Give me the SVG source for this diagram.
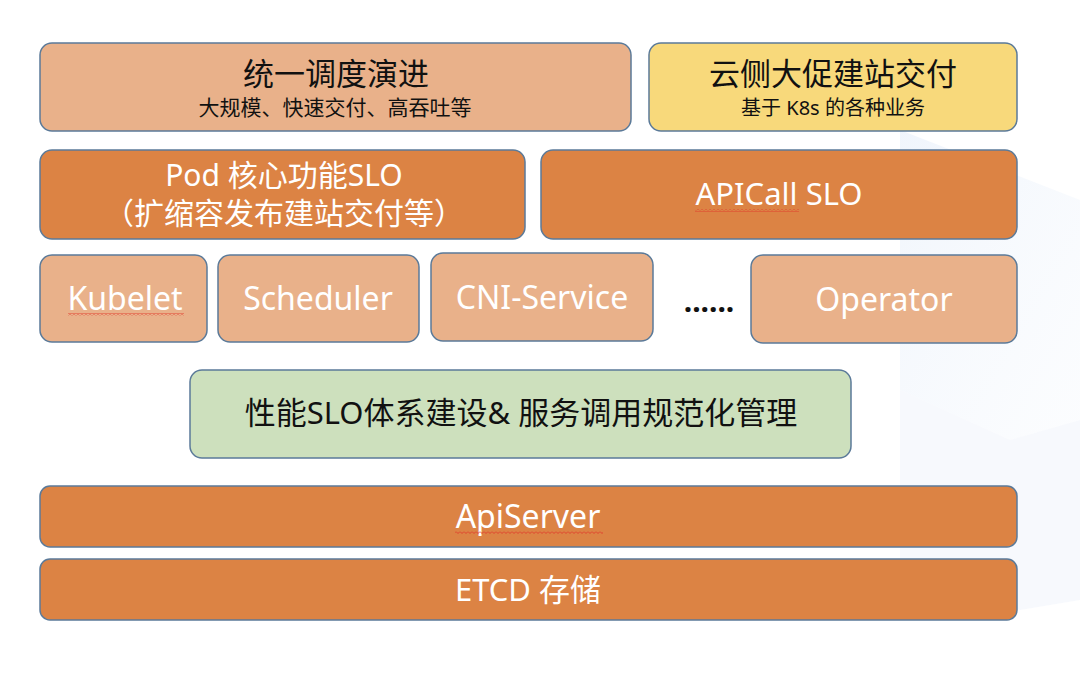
<svg xmlns="http://www.w3.org/2000/svg" width="1080" height="677" viewBox="0 0 1080 677">
<defs>
<style>
.box{stroke:#5B7A99;stroke-width:1.5}
.light{fill:#E9B18A}
.dark{fill:#DC8344}
.yellow{fill:#F8D97B}
.green{fill:#CDE0BD}
text{font-family:"Noto Sans","Noto Sans CJK SC",sans-serif;text-anchor:middle;dominant-baseline:central}
.w{fill:#FFFFFF}
.b{fill:#111111}
</style>
<pattern id="zig" x="0" y="0" width="4" height="3" patternUnits="userSpaceOnUse">
<path d="M0 0.5 L2 2.5 L4 0.5" fill="none" stroke="#E03A2A" stroke-width="0.9"/>
</pattern>
<linearGradient id="bg" x1="0" y1="0" x2="1" y2="1">
<stop offset="0" stop-color="#EAF1FB" stop-opacity="0.7"/>
<stop offset="1" stop-color="#F4F8FD" stop-opacity="0.3"/>
</linearGradient>
</defs>
<rect width="1080" height="677" fill="#FFFFFF"/>
<g id="background">
<polygon points="900,130 1080,200 1080,420 1010,440 900,390" fill="url(#bg)"/>
<polygon points="900,390 1010,440 1080,420 1080,600 1020,610 900,560" fill="#F3F7FC" opacity="0.7"/>
</g>
<g id="n-unified">
<rect class="box light" x="40" y="43" width="591" height="88" rx="12"/>
<text class="b" x="336" y="73" font-size="31">统一调度演进</text>
<text class="b" x="335" y="107" font-size="21">大规模、快速交付、高吞吐等</text>
</g>
<g id="n-cloud">
<rect class="box yellow" x="649" y="43" width="368" height="88" rx="12"/>
<text class="b" x="833" y="73" font-size="31">云侧大促建站交付</text>
<text class="b" x="833" y="107" font-size="20">基于 K8s 的各种业务</text>
</g>
<g id="n-pod">
<rect class="box dark" x="40" y="150" width="485" height="89" rx="12"/>
<text class="w" x="284" y="174" font-size="30">Pod 核心功能SLO</text>
<text class="w" x="284" y="212" font-size="30">（扩缩容发布建站交付等）</text>
</g>
<g id="n-apicall">
<rect class="box dark" x="541" y="150" width="476" height="89" rx="12"/>
<text class="w" x="779" y="193" font-size="31">APICall SLO</text>
<rect x="695" y="209" width="104" height="3" fill="url(#zig)"/>
</g>
<g id="n-kubelet">
<rect class="box light" x="40" y="255" width="167" height="87" rx="12"/>
<text class="w" x="125" y="297" font-size="32">Kubelet</text>
<rect x="68" y="313" width="116" height="3" fill="url(#zig)"/>
</g>
<g id="n-scheduler">
<rect class="box light" x="218" y="255" width="201" height="87" rx="12"/>
<text class="w" x="318" y="297" font-size="32">Scheduler</text>
</g>
<g id="n-cni">
<rect class="box light" x="431" y="253" width="222" height="88" rx="12"/>
<text class="w" x="542" y="296" font-size="32">CNI-Service</text>
</g>
<g id="n-ellipsis">
<text class="b" x="709" y="300" font-size="30" font-weight="700">......</text>
</g>
<g id="n-operator">
<rect class="box light" x="751" y="255" width="266" height="88" rx="12"/>
<text class="w" x="884" y="298" font-size="32">Operator</text>
</g>
<g id="n-perf">
<rect class="box green" x="190" y="370" width="661" height="88" rx="12"/>
<text class="b" x="521" y="412" font-size="31">性能SLO体系建设&amp; 服务调用规范化管理</text>
</g>
<g id="n-apiserver">
<rect class="box dark" x="40" y="486" width="977" height="61" rx="10"/>
<text class="w" x="528" y="515" font-size="32">ApiServer</text>
<rect x="455" y="531" width="148" height="3" fill="url(#zig)"/>
</g>
<g id="n-etcd">
<rect class="box dark" x="40" y="559" width="977" height="61" rx="10"/>
<text class="w" x="528" y="589" font-size="31">ETCD 存储</text>
</g>
<g id="connectors"></g>
</svg>
